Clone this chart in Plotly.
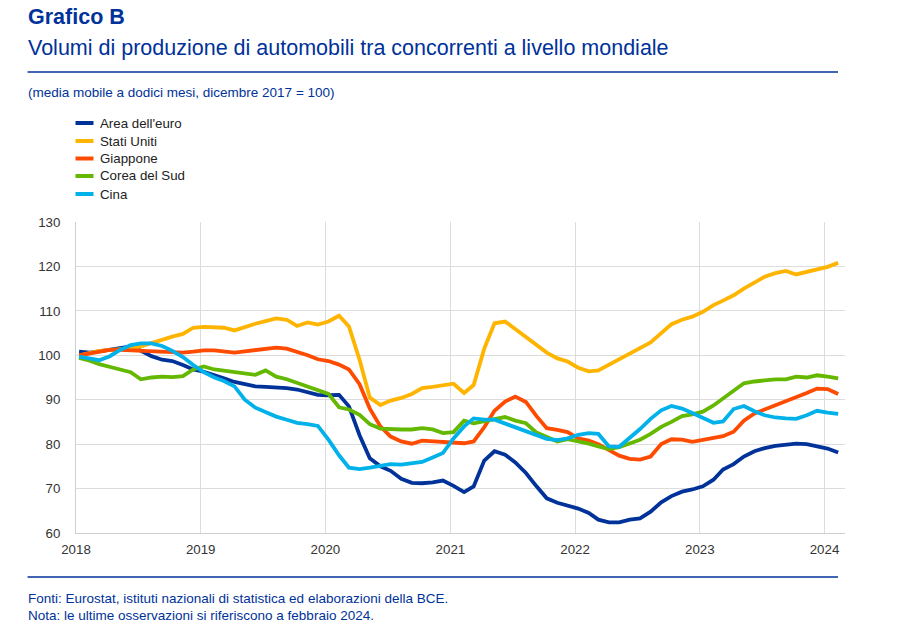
import pandas as pd
import plotly.graph_objects as go

# ---- data (12-month moving average, Dec 2017 = 100), Jan 2018 .. Feb 2024 ----
months = pd.date_range("2018-01-01", periods=74, freq="MS") + pd.Timedelta(days=9)

area_euro = [100.8, 100.6, 100.9, 101.3, 101.7, 102.0, 101.0, 99.8, 99.0, 98.7, 97.8, 96.8,
             96.3, 95.6, 94.8, 94.0, 93.6, 93.0, 92.9, 92.8, 92.6, 92.3, 91.7, 91.1,
             91.0, 91.1, 88.5, 82.0, 76.8, 75.0, 74.0, 72.2, 71.3, 71.2, 71.4, 71.8,
             70.6, 69.2, 70.5, 76.3, 78.4, 77.6, 75.9, 73.5, 70.5, 67.8, 66.8, 66.1,
             65.5, 64.5, 63.0, 62.4, 62.4, 63.0, 63.3, 64.8, 66.9, 68.3, 69.3, 69.8,
             70.5, 72.0, 74.3, 75.5, 77.2, 78.4, 79.1, 79.6, 79.9, 80.1, 80.0, 79.6,
             79.0, 78.1]

stati_uniti = [100.0, 100.5, 101.0, 101.2, 101.3, 101.5, 102.0, 102.8, 103.6, 104.2, 104.8, 106.2,
               106.4, 106.3, 106.2, 105.6, 106.4, 107.1, 107.7, 108.3, 108.0, 106.6, 107.4, 106.9,
               107.6, 108.9, 106.5, 99.0, 90.5, 88.8, 89.8, 90.4, 91.3, 92.6, 92.9, 93.3,
               93.6, 91.5, 93.3, 101.5, 107.2, 107.6, 105.9, 104.2, 102.4, 100.6, 99.3, 98.6,
               97.2, 96.4, 96.6, 97.9, 99.0, 100.3, 101.5, 102.9, 105.0, 107.0, 108.0, 108.7,
               109.8, 111.3, 112.3, 113.5, 115.0, 116.5, 117.7, 118.5, 119.0, 118.2, 118.8, 119.5,
               119.9, 120.8]

giappone = [100.0, 100.4, 100.9, 101.2, 101.2, 101.1, 100.8, 100.7, 100.6, 100.6, 100.6, 100.8,
            101.1, 101.1, 100.9, 100.6, 100.9, 101.1, 101.4, 101.7, 101.5, 100.8, 100.0, 99.1,
            98.7, 97.9, 96.8, 93.5, 88.0, 84.0, 81.7, 80.6, 80.1, 80.8, 80.6, 80.4,
            80.3, 80.2, 80.6, 83.8, 87.5, 89.6, 90.7, 89.5, 86.3, 83.6, 83.2, 82.7,
            81.3, 80.8, 80.0, 78.7, 77.4, 76.7, 76.5, 77.2, 80.0, 81.1, 81.0, 80.5,
            81.0, 81.3, 81.8, 82.8, 85.3, 86.9, 87.8, 88.6, 89.6, 90.6, 91.5, 92.5,
            92.4, 91.3]

corea_sud = [99.4, 98.8, 98.0, 97.3, 96.8, 96.2, 94.6, 95.0, 95.2, 95.1, 95.3, 96.8,
             97.5, 96.8, 96.5, 96.3, 95.9, 95.6, 96.6, 95.2, 94.6, 93.8, 92.8, 92.2,
             91.3, 88.3, 87.8, 86.6, 84.5, 83.5, 83.3, 83.3, 83.3, 83.6, 83.3, 82.5,
             82.7, 85.3, 84.7, 85.2, 85.7, 86.1, 85.3, 84.7, 82.6, 81.5, 80.6, 81.1,
             80.7, 80.1, 79.5, 78.9, 79.3, 80.1, 81.0, 82.3, 83.9, 85.0, 86.3, 86.7,
             87.3, 88.7, 90.2, 92.0, 93.7, 94.1, 94.4, 94.6, 94.6, 95.2, 95.0, 95.5,
             95.2, 94.8]

cina = [99.7, 99.2, 98.9, 99.8, 101.2, 102.3, 102.7, 102.7, 102.1, 101.0, 99.6, 97.8,
        96.2, 95.0, 94.2, 93.0, 90.0, 88.2, 87.2, 86.2, 85.5, 84.8, 84.5, 84.1,
        81.0, 77.5, 74.7, 74.4, 74.7, 75.1, 75.5, 75.4, 75.6, 76.0, 77.0, 78.0,
        81.3, 84.0, 85.8, 85.5, 85.5, 84.6, 83.7, 83.0, 82.0, 81.2, 80.9, 81.3,
        82.1, 82.5, 82.3, 79.5, 79.4, 81.3, 83.4, 85.7, 87.6, 88.6, 88.0, 87.0,
        86.0, 84.8, 85.1, 87.9, 88.6, 87.4, 86.5, 86.0, 85.8, 85.7, 86.5, 87.5,
        87.1, 86.8]

series_names = ["Area dell'euro", "Stati Uniti", "Giappone", "Corea del Sud", "Cina"]
series_values = [area_euro, stati_uniti, giappone, corea_sud, cina]
series_colors = ["#003299", "#FFB400", "#FF4B00", "#65B800", "#00B1EA"]

year_ticks = [f"{y}-01-01" for y in range(2018, 2025)]
year_labels = [str(y) for y in range(2018, 2025)]

title_main = "Grafico B"
title_sub = "Volumi di produzione di automobili tra concorrenti a livello mondiale"
unit_note = "(media mobile a dodici mesi, dicembre 2017 = 100)"
source_note = "Fonti: Eurostat, istituti nazionali di statistica ed elaborazioni della BCE."
last_note = "Nota: le ultime osservazioni si riferiscono a febbraio 2024."

# ---- layout geometry (page pixels of the reference; page has an 8px body margin) ----
OFF = 8
W, H = 900 - 2 * OFF, 632 - 2 * OFF
PL, PR, PT, PB = 75.5, 845, 222, 533
FONT = "Liberation Sans, Arial, sans-serif"
BLUE = "#003299"


def px(x):
    return (x - PL) / (PR - PL)


def py(y):
    return (PB - y) / (PB - PT)


fig = go.Figure()
for name, vals, col in zip(series_names, series_values, series_colors):
    fig.add_trace(go.Scatter(x=months, y=vals, name=name, mode="lines",
                             line=dict(color=col, width=3.8, shape="linear"),
                             hoverinfo="skip", showlegend=False))

fig.update_layout(
    width=W, height=H, autosize=False,
    margin=dict(l=PL - OFF, r=W - (PR - OFF), t=PT - OFF, b=H - (PB - OFF), pad=0),
    paper_bgcolor="white", plot_bgcolor="white",
    font=dict(family=FONT, size=13.3, color="#333333"),
    showlegend=False,
    xaxis=dict(type="date", range=["2018-01-01", "2024-03-01"],
               tickvals=year_ticks, ticktext=year_labels,
               showgrid=True, gridcolor="#dcdcdc", gridwidth=1,
               showline=True, linecolor="#cfcfcf", linewidth=1,
               ticks="", ticklabelstandoff=4,
               tickfont=dict(size=13.3, color="#333333"),
               zeroline=False, fixedrange=True),
    yaxis=dict(range=[60, 130], dtick=10, tick0=60,
               showgrid=True, gridcolor="#dcdcdc", gridwidth=1,
               showline=True, linecolor="#cfcfcf", linewidth=1,
               ticks="", ticklabelstandoff=12,
               tickfont=dict(size=13.3, color="#333333"),
               zeroline=False, fixedrange=True),
)

annots = [
    dict(text=f"<b>{title_main}</b>", x=px(26), y=py(17), size=21.5, color=BLUE),
    dict(text=title_sub, x=px(26), y=py(48), size=21.5, color=BLUE),
    dict(text=unit_note, x=px(26), y=py(93), size=13.5, color=BLUE),
    dict(text=source_note, x=px(26), y=py(598), size=13.5, color=BLUE),
    dict(text=last_note, x=px(26), y=py(615), size=13.5, color=BLUE),
]
for a in annots:
    fig.add_annotation(text=a["text"], x=a["x"], y=a["y"], xref="paper", yref="paper",
                       xanchor="left", yanchor="middle", showarrow=False, borderpad=0,
                       font=dict(family=FONT, size=a["size"], color=a["color"]))

for yl in (72, 577):
    fig.add_shape(type="line", xref="paper", yref="paper",
                  x0=px(27), x1=px(838), y0=py(yl), y1=py(yl),
                  line=dict(color=BLUE, width=1.5))

# legend (line key + label per series)
legend_rows = [123, 141, 158.5, 176, 194]
for name, col, ry in zip(series_names, series_colors, legend_rows):
    fig.add_shape(type="line", xref="paper", yref="paper",
                  x0=px(75), x1=px(93), y0=py(ry), y1=py(ry),
                  line=dict(color=col, width=4))
    fig.add_annotation(text=name, x=px(99), y=py(ry), xref="paper", yref="paper",
                       xanchor="left", yanchor="middle", showarrow=False, borderpad=0,
                       font=dict(family=FONT, size=13.3, color="#222222"))

fig.write_html("out.html", config={"displayModeBar": False})
